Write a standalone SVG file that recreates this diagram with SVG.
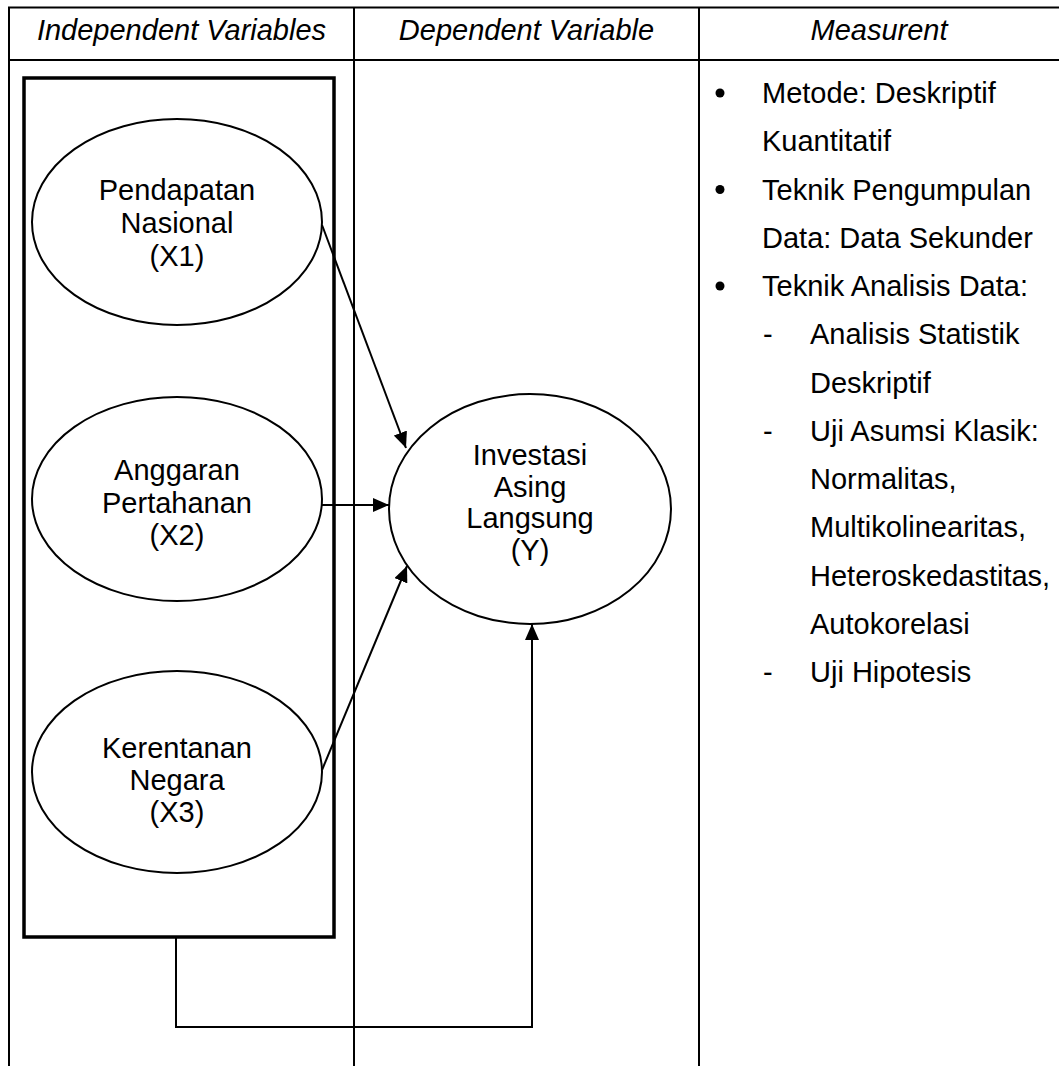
<svg xmlns="http://www.w3.org/2000/svg" width="1059" height="1066" viewBox="0 0 1059 1066">
<style>
text{font-family:"Liberation Sans",Arial,sans-serif;font-size:29px;fill:#000}
.h{font-style:italic;text-anchor:middle}
.c{text-anchor:middle}
.grid{stroke:#000;stroke-width:2;fill:none}
.node{fill:#fff;stroke:#000;stroke-width:2}
.edge{stroke:#000;stroke-width:2;fill:none}
</style>
<defs>
<marker id="ah" viewBox="0 0 16 14" refX="16" refY="7" markerWidth="16" markerHeight="14" markerUnits="userSpaceOnUse" orient="auto">
<path d="M0,0 L16,7 L0,14 z" fill="#000"/>
</marker>
</defs>
<rect width="1059" height="1066" fill="#fff"/>
<g id="table">
<path class="grid" d="M9,1066 V7.5 H1059 M9,60 H1059 M354,7.5 V1066 M699,7.5 V1066"/>
<text class="h" x="181.5" y="40">Independent Variables</text>
<text class="h" x="526.5" y="40">Dependent Variable</text>
<text class="h" x="879" y="40">Measurent</text>
</g>
<g id="group-box">
<rect x="24" y="78" width="310" height="859" fill="none" stroke="#000" stroke-width="3.5"/>
</g>
<g id="connectors">
<line class="edge" x1="322" y1="225" x2="406" y2="448" marker-end="url(#ah)"/>
<line class="edge" x1="322" y1="505" x2="389" y2="505" marker-end="url(#ah)"/>
<line class="edge" x1="322" y1="770" x2="407" y2="566" marker-end="url(#ah)"/>
<polyline class="edge" points="176,937 176,1027 532,1027 532,624" marker-end="url(#ah)"/>
</g>
<g id="x1">
<ellipse class="node" cx="177" cy="222" rx="145" ry="103" fill-opacity="0"/>
<text class="c" x="177" y="200">Pendapatan</text>
<text class="c" x="177" y="233">Nasional</text>
<text class="c" x="177" y="266">(X1)</text>
</g>
<g id="x2">
<ellipse class="node" cx="177" cy="499" rx="145" ry="102" fill-opacity="0"/>
<text class="c" x="177" y="480">Anggaran</text>
<text class="c" x="177" y="513">Pertahanan</text>
<text class="c" x="177" y="545">(X2)</text>
</g>
<g id="x3">
<ellipse class="node" cx="177" cy="772" rx="145" ry="101" fill-opacity="0"/>
<text class="c" x="177" y="758">Kerentanan</text>
<text class="c" x="177" y="790">Negara</text>
<text class="c" x="177" y="822">(X3)</text>
</g>
<g id="y">
<ellipse class="node" cx="530" cy="509" rx="141" ry="115"/>
<text class="c" x="530" y="465">Investasi</text>
<text class="c" x="530" y="497">Asing</text>
<text class="c" x="530" y="528">Langsung</text>
<text class="c" x="530" y="560">(Y)</text>
</g>
<g id="measurement">
<circle cx="720" cy="93" r="4.5"/>
<text x="762" y="103">Metode: Deskriptif</text>
<text x="762" y="151">Kuantitatif</text>
<circle cx="720" cy="189.5" r="4.5"/>
<text x="762" y="199.5">Teknik Pengumpulan</text>
<text x="762" y="248">Data: Data Sekunder</text>
<circle cx="720" cy="286" r="4.5"/>
<text x="762" y="296">Teknik Analisis Data:</text>
<text x="763" y="344">-</text>
<text x="810" y="344">Analisis Statistik</text>
<text x="810" y="392.5">Deskriptif</text>
<text x="763" y="441">-</text>
<text x="810" y="441">Uji Asumsi Klasik:</text>
<text x="810" y="489">Normalitas,</text>
<text x="810" y="537">Multikolinearitas,</text>
<text x="810" y="585.5">Heteroskedastitas,</text>
<text x="810" y="634">Autokorelasi</text>
<text x="763" y="682">-</text>
<text x="810" y="682">Uji Hipotesis</text>
</g>
</svg>
